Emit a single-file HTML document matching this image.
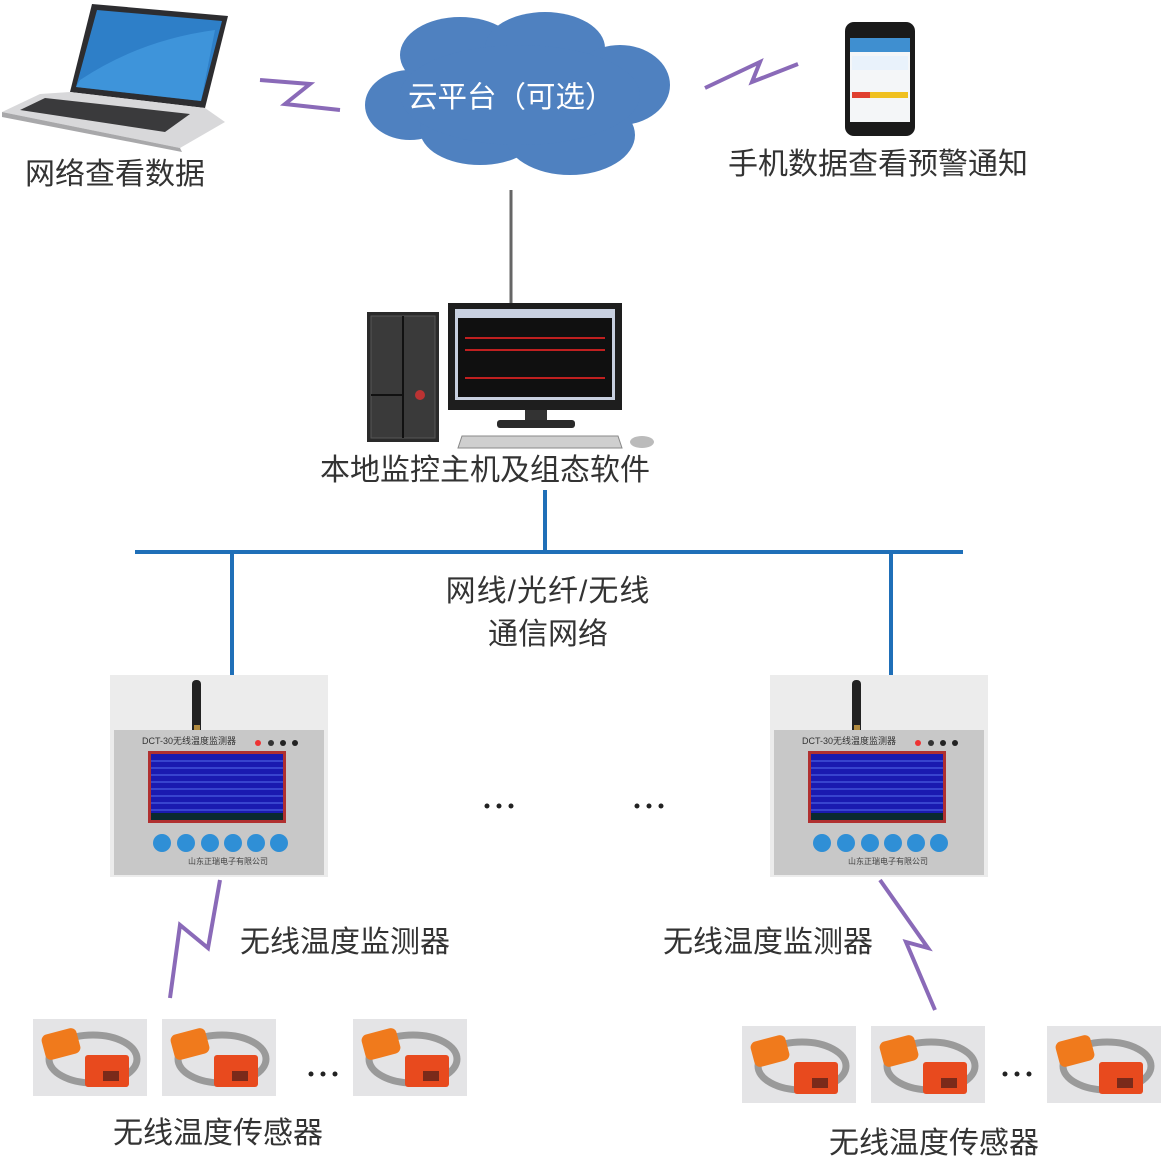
<!DOCTYPE html>
<html><head><meta charset="utf-8"><style>
html,body{margin:0;padding:0;background:#fff;}
svg{display:block;}
text{font-family:"Liberation Sans","Noto Sans CJK SC",sans-serif;}
</style></head><body>
<svg width="1162" height="1176" viewBox="0 0 1162 1176" xmlns="http://www.w3.org/2000/svg">
<defs>
<g id="sensor">
<rect x="0" y="0" width="114" height="77" fill="#e4e4e6"/>
<ellipse cx="60" cy="40" rx="44" ry="24" fill="none" stroke="#9a9a9a" stroke-width="7"/>
<rect x="10" y="12" width="36" height="26" rx="6" fill="#f07a1c" transform="rotate(-15 28 25)"/>
<rect x="52" y="36" width="44" height="32" rx="3" fill="#e84a1e"/>
<rect x="70" y="52" width="16" height="10" fill="#7a2a1a"/>
</g>
<g id="device">
<rect x="0" y="0" width="218" height="202" fill="#ececec"/>
<rect x="82" y="5" width="9" height="60" rx="4" fill="#222"/>
<rect x="84" y="50" width="6" height="10" fill="#b08a40"/>
<rect x="4" y="55" width="210" height="145" fill="#c8c8c8"/>
<text x="32" y="69" font-size="9" fill="#333">DCT-30无线温度监测器</text>
<circle cx="148" cy="68" r="3" fill="#e33"/><circle cx="161" cy="68" r="3" fill="#333"/><circle cx="173" cy="68" r="3" fill="#222"/><circle cx="185" cy="68" r="3" fill="#222"/>
<rect x="38" y="76" width="138" height="72" fill="#b03030"/>
<rect x="41" y="79" width="132" height="66" fill="#1a1ab0"/>
<g stroke="#6a8aff" stroke-width="0.7">
<line x1="41" y1="86" x2="173" y2="86"/><line x1="41" y1="93" x2="173" y2="93"/><line x1="41" y1="100" x2="173" y2="100"/><line x1="41" y1="107" x2="173" y2="107"/><line x1="41" y1="114" x2="173" y2="114"/><line x1="41" y1="121" x2="173" y2="121"/><line x1="41" y1="128" x2="173" y2="128"/><line x1="41" y1="135" x2="173" y2="135"/>
</g>
<rect x="41" y="138" width="132" height="7" fill="#0a2a30"/>
<g fill="#2f8fd6"><circle cx="52" cy="168" r="9"/><circle cx="76" cy="168" r="9"/><circle cx="100" cy="168" r="9"/><circle cx="123" cy="168" r="9"/><circle cx="146" cy="168" r="9"/><circle cx="169" cy="168" r="9"/></g>
<text x="78" y="189" font-size="8" fill="#444">山东正瑞电子有限公司</text>
</g>
</defs>

<polygon points="92,4 228,16 205,108 70,92" fill="#2d2d30"/>
<polygon points="97,10 222,21 201,101 76,87" fill="#2e7fc8"/>
<path d="M80,80 Q140,40 215,30 L201,101 L76,87Z" fill="#4aa2e6" opacity="0.6"/>
<polygon points="70,92 205,108 225,122 180,148 2,112 40,94" fill="#d8d8da"/>
<polygon points="45,98 190,114 165,132 20,110" fill="#3a3a3c"/>
<polygon points="2,112 180,148 182,152 2,117" fill="#a8a8aa"/>
<text x="25" y="184" font-size="30" fill="#333">网络查看数据</text>

<polyline points="260,80 310,84 285,104 340,110" fill="none" stroke="#8a6ab8" stroke-width="4"/>
<polyline points="705,88 760,62 752,82 798,64" fill="none" stroke="#8a6ab8" stroke-width="4"/>

<g fill="#4f81c0">
<ellipse cx="460" cy="55" rx="60" ry="38"/>
<ellipse cx="545" cy="48" rx="60" ry="36"/>
<ellipse cx="620" cy="85" rx="50" ry="40"/>
<ellipse cx="410" cy="105" rx="45" ry="35"/>
<ellipse cx="480" cy="130" rx="60" ry="35"/>
<ellipse cx="570" cy="135" rx="65" ry="40"/>
<ellipse cx="520" cy="95" rx="120" ry="50"/>
</g>
<text x="408" y="107" font-size="29.5" fill="#fff">云平台（可选）</text>

<rect x="845" y="22" width="70" height="114" rx="9" fill="#1a1a1a"/>
<rect x="850" y="38" width="60" height="84" fill="#f4f6f8"/>
<rect x="850" y="38" width="60" height="14" fill="#3f8fd0"/>
<rect x="852" y="56" width="56" height="14" fill="#e9f2fb"/>
<rect x="852" y="92" width="56" height="6" fill="#f0c020"/>
<rect x="852" y="92" width="18" height="6" fill="#e04030"/>
<text x="728" y="174" font-size="30" fill="#333">手机数据查看预警通知</text>

<line x1="511" y1="190" x2="511" y2="305" stroke="#666" stroke-width="3"/>

<rect x="367" y="312" width="72" height="130" fill="#2a2a2a"/>
<rect x="371" y="316" width="64" height="122" fill="#3a3a3a" stroke="#555"/>
<line x1="403" y1="316" x2="403" y2="438" stroke="#111" stroke-width="2"/>
<line x1="371" y1="395" x2="403" y2="395" stroke="#111" stroke-width="2"/>
<circle cx="420" cy="395" r="5" fill="#b33"/>
<rect x="448" y="303" width="174" height="107" fill="#1e1e1e"/>
<rect x="455" y="309" width="160" height="91" fill="#c8d0e0"/>
<rect x="458" y="318" width="154" height="79" fill="#101010"/>
<g stroke="#c02020" stroke-width="2"><line x1="465" y1="338" x2="605" y2="338"/><line x1="465" y1="350" x2="605" y2="350"/><line x1="465" y1="378" x2="605" y2="378"/></g>
<rect x="525" y="410" width="22" height="12" fill="#333"/>
<rect x="497" y="420" width="78" height="8" rx="3" fill="#2a2a2a"/>
<polygon points="462,436 618,436 622,448 458,448" fill="#cfcfcf" stroke="#888"/>
<ellipse cx="642" cy="442" rx="12" ry="6" fill="#bbb"/>
<text x="320" y="480" font-size="30" fill="#333">本地监控主机及组态软件</text>

<g stroke="#1f6fb8" stroke-width="4">
<line x1="545" y1="490" x2="545" y2="552"/>
<line x1="135" y1="552" x2="963" y2="552"/>
<line x1="232" y1="552" x2="232" y2="677"/>
<line x1="891" y1="552" x2="891" y2="675"/>
</g>
<text x="548" y="601" font-size="30" fill="#333" text-anchor="middle" letter-spacing="1">网线/光纤/无线</text>
<text x="548" y="644" font-size="30" fill="#333" text-anchor="middle">通信网络</text>

<use href="#device" x="110" y="675"/>
<use href="#device" x="770" y="675"/>
<g fill="#222"><circle cx="487" cy="806" r="2.5"/><circle cx="499" cy="806" r="2.5"/><circle cx="511" cy="806" r="2.5"/>
<circle cx="637" cy="806" r="2.5"/><circle cx="649" cy="806" r="2.5"/><circle cx="661" cy="806" r="2.5"/></g>

<polyline points="220,880 208,948 180,925 170,998" fill="none" stroke="#8a6ab8" stroke-width="4"/>
<polyline points="880,880 928,948 906,942 935,1010" fill="none" stroke="#8a6ab8" stroke-width="4"/>
<text x="240" y="952" font-size="30" fill="#333">无线温度监测器</text>
<text x="663" y="952" font-size="30" fill="#333">无线温度监测器</text>

<use href="#sensor" x="33" y="1019"/>
<use href="#sensor" x="162" y="1019"/>
<use href="#sensor" x="353" y="1019"/>
<use href="#sensor" x="742" y="1026"/>
<use href="#sensor" x="871" y="1026"/>
<use href="#sensor" x="1047" y="1026"/>
<g fill="#222"><circle cx="311" cy="1074" r="2.5"/><circle cx="323" cy="1074" r="2.5"/><circle cx="335" cy="1074" r="2.5"/>
<circle cx="1005" cy="1074" r="2.5"/><circle cx="1017" cy="1074" r="2.5"/><circle cx="1029" cy="1074" r="2.5"/></g>
<text x="113" y="1143" font-size="30" fill="#333">无线温度传感器</text>
<text x="829" y="1153" font-size="30" fill="#333">无线温度传感器</text>
</svg>
</body></html>
